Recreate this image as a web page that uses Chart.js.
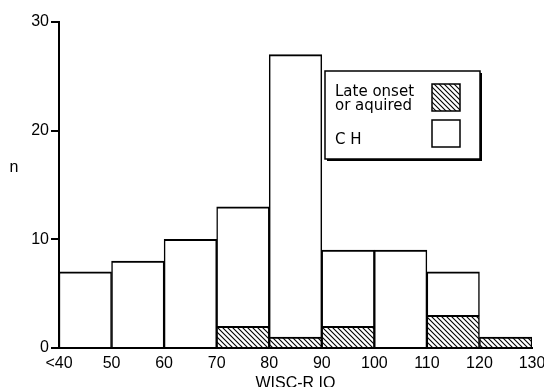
<!DOCTYPE html>
<html>
<head>
<meta charset="utf-8">
<script src="https://cdn.jsdelivr.net/npm/chart.js@4.4.1/dist/chart.umd.min.js"></script>
<style>
  html, body { margin: 0; padding: 0; background: #fff; }
  canvas { display: block; }
</style>
</head>
<body>
<canvas id="chart" width="544" height="387"></canvas>
<script>
// IQ bins (centres of 10-point bins, first one is "<40"-50)
const binCenters = [45, 55, 65, 75, 85, 95, 105, 115, 125];
// late onset or acquired (hatched, bottom of stack)
const lateOnset = [null, null, null, 2, 1, 2, null, 3, 1];
// CH (white, stacked on top)
const chCases = [7, 8, 10, 11, 26, 7, 9, 4, null];
const yTickValues = [0, 10, 20, 30];
const legendLabels = [['Late onset', 'or aquired'], ['CH']];

function makeHatch() {
  const s = 5;
  const c = document.createElement('canvas');
  c.width = s; c.height = s;
  const g = c.getContext('2d');
  g.fillStyle = '#fff';
  g.fillRect(0, 0, s, s);
  g.strokeStyle = '#000';
  g.lineWidth = 1.1;
  g.beginPath();
  g.moveTo(-1, -1); g.lineTo(s + 1, s + 1);
  g.moveTo(-1, s - 1); g.lineTo(1, s + 1);
  g.moveTo(s - 1, -1); g.lineTo(s + 1, 1);
  g.stroke();
  return g.createPattern(c, 'repeat');
}
const hatch = makeHatch();

Chart.defaults.font.family = '"Liberation Sans", Arial, sans-serif';
Chart.defaults.font.size = 16;
Chart.defaults.color = '#000';

// legend box + horizontal "n" label
const extras = {
  id: 'extras',
  afterDraw(chart) {
    const ctx = chart.ctx;
    ctx.save();
    ctx.fillStyle = '#000';
    ctx.font = '16px "Liberation Sans", sans-serif';
    ctx.textAlign = 'center';
    ctx.textBaseline = 'middle';
    ctx.fillText('n', 14, 168);

    const bx = 325, by = 71, bw = 155, bh = 88;
    ctx.fillRect(bx + 2, by + 2, bw, bh);
    ctx.fillStyle = '#fff';
    ctx.fillRect(bx, by, bw, bh);
    ctx.strokeStyle = '#000';
    ctx.lineWidth = 1.5;
    ctx.strokeRect(bx, by, bw, bh);

    ctx.font = '15px "DejaVu Sans", sans-serif';
    ctx.textAlign = 'left';
    ctx.textBaseline = 'alphabetic';
    ctx.fillStyle = '#000';
    ctx.fillText(legendLabels[0][0], 335, 96);
    ctx.fillText(legendLabels[0][1], 335, 110);
    ctx.fillText(legendLabels[1][0].split('').join(' '), 335, 144);

    ctx.fillStyle = hatch;
    ctx.fillRect(432, 84, 28, 27);
    ctx.strokeRect(432, 84, 28, 27);
    ctx.fillStyle = '#fff';
    ctx.fillRect(432, 120, 28, 27);
    ctx.strokeRect(432, 120, 28, 27);
    ctx.restore();
  }
};

const barStyle = {
  borderColor: '#000',
  borderWidth: { top: 2, left: 1.5, right: 1.5, bottom: 0 },
  borderSkipped: false,
  barPercentage: 1,
  categoryPercentage: 1
};

new Chart(document.getElementById('chart'), {
  type: 'bar',
  data: {
    datasets: [
      Object.assign({
        label: 'Late onset or aquired',
        data: binCenters.map((x, i) => ({ x: x, y: lateOnset[i] })),
        backgroundColor: hatch
      }, barStyle),
      Object.assign({
        label: 'CH',
        data: binCenters.map((x, i) => ({ x: x, y: chCases[i] })),
        backgroundColor: '#fff'
      }, barStyle)
    ]
  },
  options: {
    responsive: false,
    animation: false,
    devicePixelRatio: 1,
    layout: { padding: { left: 0, right: 12, top: 22, bottom: 0 } },
    plugins: {
      legend: { display: false },
      tooltip: { enabled: false }
    },
    scales: {
      x: {
        type: 'linear',
        stacked: true,
        offset: false,
        min: 40,
        max: 130,
        grid: { display: false },
        border: { display: true, color: '#000', width: 2 },
        ticks: {
          stepSize: 10,
          padding: -2,
          maxRotation: 0,
          autoSkip: false,
          callback: v => v === 40 ? '<40' : v
        },
        title: {
          display: true,
          text: 'WISC-R IQ',
          padding: { top: 0, bottom: -6 }
        },
        afterFit: s => { s.height = 39; }
      },
      y: {
        stacked: true,
        min: 0,
        max: 30,
        afterBuildTicks: s => { s.ticks = yTickValues.map(v => ({ value: v })); },
        grid: {
          display: true,
          drawOnChartArea: false,
          drawTicks: true,
          tickLength: 8,
          color: '#000',
          lineWidth: 2
        },
        border: { display: true, color: '#000', width: 2 },
        ticks: { padding: 2 },
        afterFit: s => { s.width = 59; }
      }
    }
  },
  plugins: [extras]
});
</script>
</body>
</html>
